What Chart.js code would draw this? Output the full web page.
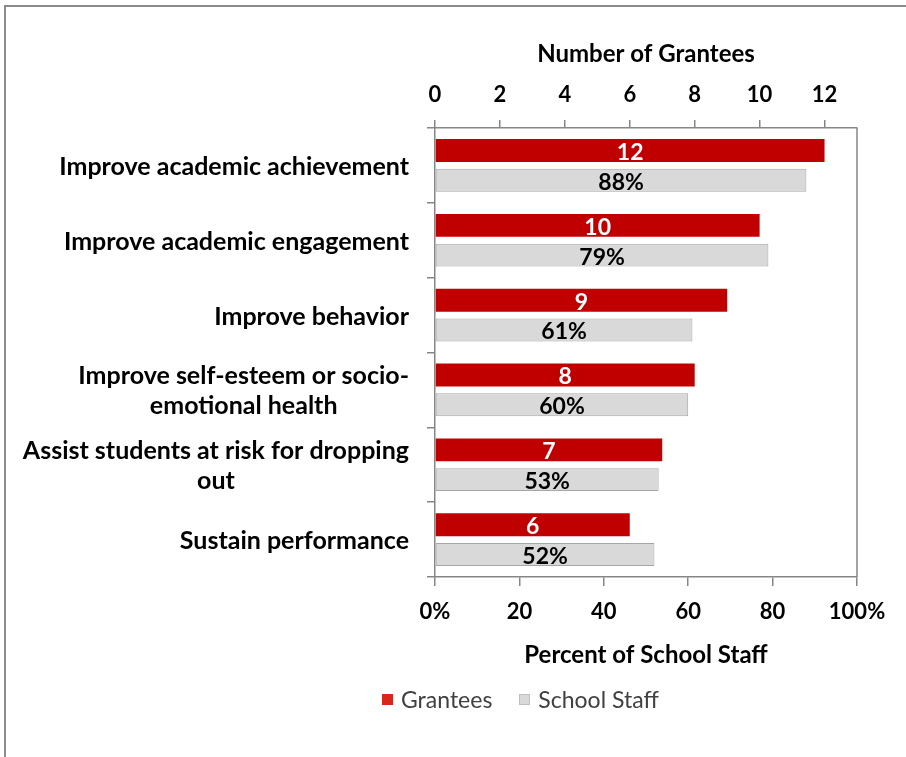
<!DOCTYPE html>
<html>
<head>
<meta charset="utf-8">
<title>Purposes of the program</title>
<script src="https://cdn.jsdelivr.net/npm/chart.js@4"></script>
<style>
  html, body { margin: 0; padding: 0; background: #fff; overflow: hidden; }
  #wrap { position: relative; width: 906px; height: 757px; }
  #frame {
    position: absolute; left: 4px; top: 5px; width: 920px; height: 770px;
    border-top: 2px solid #8c8c8c; border-left: 2px solid #8c8c8c;
  }
  #purposeChart { position: absolute; left: 0; top: 0; }
  #legend {
    position: absolute; left: 382px; top: 685px;
    font-family: Lato, "Open Sans", sans-serif; font-size: 23px; color: #404040;
    display: flex; align-items: center; white-space: nowrap;
  }
  #legend .sw { display: inline-block; width: 11px; height: 11px; margin-right: 8px; box-sizing: border-box; }
  #legend .item { display: flex; align-items: center; margin-right: 27px; }
</style>
</head>
<body>
<div id="wrap">
  <div id="frame"></div>
  <canvas id="purposeChart" width="906" height="757"></canvas>
  <div id="legend">
    <span class="item"><span class="sw" style="background:#d9261c"></span>Grantees</span>
    <span class="item"><span class="sw" style="background:#d9d9d9;border:1px solid #bfbfbf"></span>School Staff</span>
  </div>
</div>
<script>
const categories = [
  'Improve academic achievement',
  'Improve academic engagement',
  'Improve behavior',
  ['Improve self-esteem or socio-', 'emotional health'],
  ['Assist students at risk for dropping', 'out'],
  'Sustain performance'
];
const granteeCounts = [12, 10, 9, 8, 7, 6];
const staffPercents = [88, 79, 61, 60, 53, 52];
const countTicks = [0, 2, 4, 6, 8, 10, 12];
const percentTicks = [0, 20, 40, 60, 80, 100];

const FONT = 'Lato, "Open Sans", sans-serif';
const AXIS_GRAY = '#868686';

// category names to the left of the plot: block right-aligned, lines centred within it
const categoryLabels = {
  id: 'categoryLabels',
  afterDraw(chart) {
    const ctx = chart.ctx;
    const yScale = chart.scales.y;
    const right = chart.chartArea.left - 26;
    ctx.save();
    ctx.font = 'bold 25px ' + FONT;
    ctx.fillStyle = '#000';
    ctx.textAlign = 'center';
    ctx.textBaseline = 'middle';
    categories.forEach((cat, i) => {
      const lines = Array.isArray(cat) ? cat : [cat];
      const w = Math.max(...lines.map(l => ctx.measureText(l).width));
      const cx = right - w / 2;
      const lh = 30;
      const y0 = yScale.getPixelForTick(i) + 1.5 - (lines.length - 1) * lh / 2;
      lines.forEach((l, k) => ctx.fillText(l, cx, y0 + k * lh));
    });
    ctx.restore();
  }
};

// value labels centred inside each bar
const barValues = {
  id: 'barValues',
  afterDatasetsDraw(chart) {
    const ctx = chart.ctx;
    ctx.save();
    ctx.font = 'bold 23px ' + FONT;
    ctx.textAlign = 'center';
    ctx.textBaseline = 'middle';
    chart.data.datasets.forEach((ds, di) => {
      const meta = chart.getDatasetMeta(di);
      meta.data.forEach((bar, i) => {
        const v = ds.data[i];
        ctx.fillStyle = di === 0 ? '#fff' : '#000';
        const text = di === 0 ? String(v) : v + '%';
        ctx.fillText(text, (bar.x + bar.base) / 2, bar.y + 2);
      });
    });
    ctx.restore();
  }
};

// right edge of the plot box
const plotBorder = {
  id: 'plotBorder',
  afterDraw(chart) {
    const { ctx, chartArea: a } = chart;
    ctx.save();
    ctx.strokeStyle = AXIS_GRAY;
    ctx.lineWidth = 1.5;
    ctx.beginPath();
    ctx.moveTo(a.right, a.top);
    ctx.lineTo(a.right, a.bottom);
    ctx.stroke();
    ctx.restore();
  }
};

new Chart(document.getElementById('purposeChart').getContext('2d'), {
  type: 'bar',
  data: {
    labels: categories,
    datasets: [{
      label: 'Grantees',
      data: granteeCounts,
      xAxisID: 'xTop',
      backgroundColor: '#c00000',
      borderWidth: 0,
      barPercentage: 0.77,
      categoryPercentage: 0.795
    }, {
      label: 'School Staff',
      data: staffPercents,
      xAxisID: 'x',
      backgroundColor: '#d9d9d9',
      borderColor: '#a6a6a6',
      borderWidth: 1,
      borderSkipped: false,
      barPercentage: 0.77,
      categoryPercentage: 0.795
    }]
  },
  options: {
    indexAxis: 'y',
    responsive: false,
    animation: false,
    layout: { padding: { left: 425, right: 49, top: 20, bottom: 80 } },
    plugins: { legend: { display: false }, tooltip: { enabled: false } },
    scales: {
      y: {
        ticks: { display: false },
        grid: { drawOnChartArea: false, tickLength: 8, color: AXIS_GRAY, lineWidth: 1.5 },
        border: { color: AXIS_GRAY, width: 1.5 },
        afterFit: s => { s.width = 10; }
      },
      xTop: {
        position: 'top',
        min: 0,
        max: 13,
        afterBuildTicks: s => { s.ticks = countTicks.map(v => ({ value: v })); },
        ticks: { color: '#000', font: { family: FONT, size: 22, weight: 'bold' }, padding: 12, maxRotation: 0 },
        grid: { drawOnChartArea: false, tickLength: 8, color: AXIS_GRAY, lineWidth: 1.5 },
        border: { color: AXIS_GRAY, width: 1.5 },
        title: {
          display: true, text: 'Number of Grantees', color: '#000',
          font: { family: FONT, size: 24, weight: 'bold' }, padding: { top: 20, bottom: 0 }
        },
        afterFit: s => { s.height = 108; }
      },
      x: {
        position: 'bottom',
        min: 0,
        max: 100,
        afterBuildTicks: s => { s.ticks = percentTicks.map(v => ({ value: v })); },
        ticks: {
          color: '#000', font: { family: FONT, size: 22, weight: 'bold' }, padding: 13, maxRotation: 0,
          callback: v => (v === 0 || v === 100) ? v + '%' : String(v)
        },
        grid: { drawOnChartArea: false, tickLength: 9, color: AXIS_GRAY, lineWidth: 1.5 },
        border: { color: AXIS_GRAY, width: 1.5 },
        title: {
          display: true, text: 'Percent of School Staff', color: '#000',
          font: { family: FONT, size: 24, weight: 'bold' }, padding: { top: 0, bottom: 7 }
        },
        afterFit: s => { s.height = 100; }
      }
    }
  },
  plugins: [categoryLabels, barValues, plotBorder]
});
</script>
</body>
</html>
